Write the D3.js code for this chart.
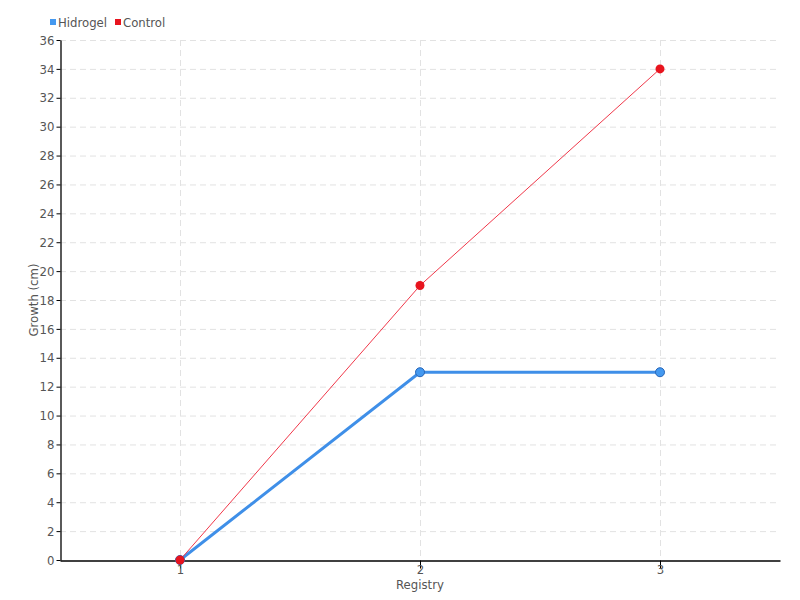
<!DOCTYPE html>
<html>
<head>
<meta charset="utf-8">
<script src="https://cdn.jsdelivr.net/npm/d3@7"></script>
<style>
  body { margin: 0; background: #fff; }
  text { font-family: "DejaVu Sans Condensed", "DejaVu Sans", sans-serif; font-stretch: condensed; fill: #555; }
</style>
</head>
<body>
<div id="chart"></div>
<script>
var registries = ["1", "2", "3"];
var hidrogel = [0, 13, 13];
var control = [0, 19, 34];
var yTicks = d3.range(0, 37, 2);
var seriesNames = ["Hidrogel", "Control"];

var width = 800, height = 600;
var margin = {top: 40, right: 20, bottom: 40, left: 60};
var font = "'DejaVu Sans Condensed', 'DejaVu Sans', sans-serif";

var svg = d3.select("#chart").append("svg")
    .attr("width", width)
    .attr("height", height);

var x = d3.scalePoint()
    .domain(registries)
    .range([margin.left, width - margin.right])
    .padding(0.5);

var y = d3.scaleLinear()
    .domain([0, 36])
    .range([height - margin.bottom, margin.top]);

// grid
svg.append("g").selectAll("line.h")
    .data(yTicks.slice(1))
  .enter().append("line")
    .attr("x1", margin.left)
    .attr("x2", width - margin.right)
    .attr("y1", function(d) { return y(d) + 0.5; })
    .attr("y2", function(d) { return y(d) + 0.5; })
    .attr("stroke", "#e2e2e2")
    .attr("stroke-dasharray", "6,4");

svg.append("g").selectAll("line.v")
    .data(registries)
  .enter().append("line")
    .attr("x1", function(d) { return x(d) + 0.5; })
    .attr("x2", function(d) { return x(d) + 0.5; })
    .attr("y1", margin.top)
    .attr("y2", height - margin.bottom)
    .attr("stroke", "#e2e2e2")
    .attr("stroke-dasharray", "6,4");

// axes
var yAxis = svg.append("g")
    .attr("transform", "translate(" + (margin.left + 0.5) + ",0)")
    .call(d3.axisLeft(y).tickValues(yTicks).tickSize(4).tickSizeOuter(0));

var xAxis = svg.append("g")
    .attr("transform", "translate(0," + (height - margin.bottom + 0.5) + ")")
    .call(d3.axisBottom(x).tickSize(8).tickSizeOuter(0).tickPadding(-4));

[yAxis, xAxis].forEach(function(a) {
  a.select(".domain").attr("stroke", "#000").attr("stroke-width", 1.3);
  a.selectAll(".tick line").attr("stroke", "#000");
  a.selectAll("text").attr("font-size", 13).attr("fill", "#555")
    .style("font-family", font).style("font-stretch", "condensed");
});
yAxis.selectAll("text").attr("dx", 1);
xAxis.selectAll(".tick line").attr("y1", 0);

// axis labels
svg.append("text")
    .attr("x", x("2"))
    .attr("y", height - 11)
    .attr("text-anchor", "middle")
    .attr("font-size", 13)
    .text("Registry");

svg.append("text")
    .attr("transform", "translate(38," + (y(18)) + ") rotate(-90)")
    .attr("text-anchor", "middle")
    .attr("font-size", 13)
    .text("Growth (cm)");

var line = d3.line()
    .x(function(d, i) { return x(registries[i]); })
    .y(function(d) { return y(d); });

// Hidrogel
svg.append("path")
    .datum(hidrogel)
    .attr("d", line)
    .attr("fill", "none")
    .attr("stroke", "#3f8fe8")
    .attr("stroke-width", 3);

// Control
svg.append("path")
    .datum(control)
    .attr("d", line)
    .attr("fill", "none")
    .attr("stroke", "#f0384a")
    .attr("stroke-width", 1);

svg.append("g").selectAll("circle")
    .data(hidrogel)
  .enter().append("circle")
    .attr("cx", function(d, i) { return x(registries[i]); })
    .attr("cy", function(d) { return y(d); })
    .attr("r", 4.5)
    .attr("fill", "#4499f0")
    .attr("stroke", "#2866b8")
    .attr("stroke-width", 1);

svg.append("g").selectAll("circle")
    .data(control)
  .enter().append("circle")
    .attr("cx", function(d, i) { return x(registries[i]); })
    .attr("cy", function(d) { return y(d); })
    .attr("r", 4.5)
    .attr("fill", "#e8141e");

// legend
var legendColors = ["#4499f0", "#e8141e"];
var legendX = [50, 115];
var legend = svg.append("g").selectAll("g")
    .data(seriesNames)
  .enter().append("g")
    .attr("transform", function(d, i) { return "translate(" + legendX[i] + ",0)"; });

legend.append("rect")
    .attr("x", 0)
    .attr("y", 19)
    .attr("width", 6)
    .attr("height", 6)
    .attr("fill", function(d, i) { return legendColors[i]; });

legend.append("text")
    .attr("x", 8)
    .attr("y", 27)
    .attr("font-size", 13)
    .text(function(d) { return d; });
</script>
</body>
</html>
